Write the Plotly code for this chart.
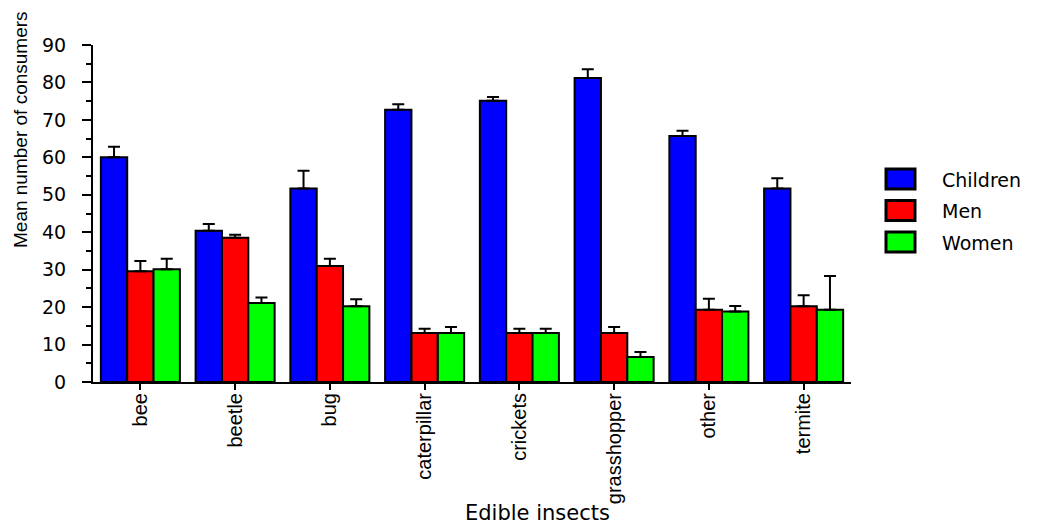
import plotly.graph_objects as go

categories = ["bee", "beetle", "bug", "caterpillar", "crickets", "grasshopper", "other", "termite"]
series_names = ["Children", "Men", "Women"]
children = [60.0, 40.4, 51.7, 72.7, 75.1, 81.2, 65.7, 51.7]
men = [29.6, 38.5, 31.0, 13.1, 13.1, 13.1, 19.3, 20.2]
women = [30.1, 21.1, 20.2, 13.1, 13.1, 6.7, 18.8, 19.3]
children_err = [2.8, 1.8, 4.7, 1.5, 1.0, 2.3, 1.4, 2.7]
men_err = [2.7, 0.8, 1.9, 1.1, 1.1, 1.6, 2.9, 3.0]
women_err = [2.8, 1.5, 1.9, 1.6, 1.1, 1.3, 1.5, 9.0]
colors = ["#0000ff", "#ff0000", "#00ff00"]
y_ticks = [0, 10, 20, 30, 40, 50, 60, 70, 80, 90]

# page body has an 8px default margin; work in screen pixels and compensate
OFF = 8
W, H = 1045 - OFF, 525 - OFF
L, T = 93 - OFF, 45 - OFF
pw, ph = 758, 337
R, B = W - L - pw, H - T - ph

def px_x(x):
    return (x - OFF - L) / pw

def px_y(y):
    return (T + ph - (y - OFF)) / ph

fig = go.Figure()
for name, vals, errs, col in zip(series_names, [children, men, women],
                                 [children_err, men_err, women_err], colors):
    fig.add_trace(go.Bar(
        x=categories, y=vals, name=name, showlegend=False,
        marker=dict(color=col, line=dict(color="black", width=2)),
        error_y=dict(type="data", array=errs, arrayminus=[0] * len(errs),
                     symmetric=False, color="black", thickness=2, width=6),
    ))

shapes = []
annotations = []
for i, (name, col) in enumerate(zip(series_names, colors)):
    y0 = 169 + i * 31.5
    shapes.append(dict(type="rect", xref="paper", yref="paper",
                       x0=px_x(886), x1=px_x(915), y0=px_y(y0 + 20), y1=px_y(y0),
                       fillcolor=col, line=dict(color="black", width=3)))
    annotations.append(dict(text=name, xref="paper", yref="paper",
                            x=px_x(940), y=px_y(y0 + 10.5), xanchor="left",
                            yanchor="middle", showarrow=False,
                            font=dict(family="DejaVu Sans", size=19, color="black")))

annotations.append(dict(text="Mean number of consumers", xref="paper", yref="paper",
                        x=px_x(20), y=px_y(130), textangle=-90, showarrow=False,
                        xanchor="center", yanchor="middle",
                        font=dict(family="Liberation Sans", size=19, color="black")))
annotations.append(dict(text="Edible insects", xref="paper", yref="paper",
                        x=px_x(537), y=px_y(513), showarrow=False,
                        xanchor="center", yanchor="middle",
                        font=dict(family="DejaVu Sans", size=21, color="black")))

fig.update_layout(
    width=W, height=H,
    margin=dict(l=L, r=R, t=T, b=B, pad=0, autoexpand=False),
    paper_bgcolor="white", plot_bgcolor="white",
    barmode="group", bargap=0.166, bargroupgap=0,
    shapes=shapes, annotations=annotations,
    font=dict(family="Liberation Sans", color="black"),
    xaxis=dict(
        range=[-0.5, 7.5], showgrid=False, zeroline=False, automargin=False,
        showline=True, linecolor="black", linewidth=2,
        ticks="outside", ticklen=6, tickwidth=2, tickcolor="black",
        ticklabelstandoff=-5,
        tickangle=-90, tickfont=dict(family="Liberation Sans", size=20, color="black"),
    ),
    yaxis=dict(
        range=[0, 90], tickvals=y_ticks,
        ticktext=[f"{v}\u00a0\u00a0" for v in y_ticks],
        showgrid=False, zeroline=False, automargin=False,
        showline=True, linecolor="black", linewidth=2,
        ticks="outside", ticklen=9, tickwidth=2, tickcolor="black",
        tickfont=dict(family="DejaVu Sans", size=19, color="black"),
        minor=dict(dtick=5, ticks="outside", ticklen=5, tickwidth=2, tickcolor="black", showgrid=False),
    ),
)

fig.write_html("out.html")
